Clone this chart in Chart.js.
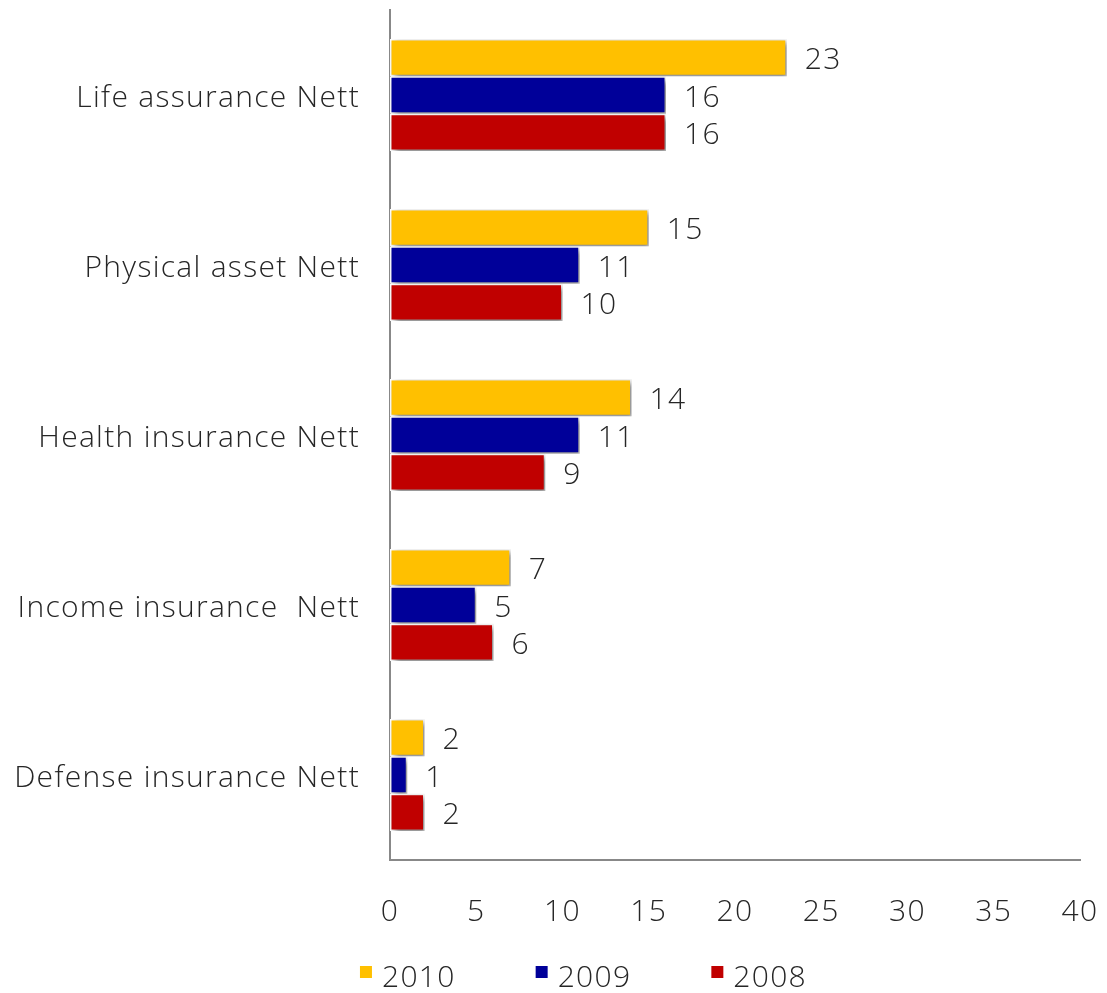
<!DOCTYPE html>
<html>
<head>
<meta charset="utf-8">
<script src="https://cdn.jsdelivr.net/npm/chart.js@4"></script>
<style>
  html, body { margin: 0; padding: 0; background: #fff; }
  #wrap { width: 1107px; height: 993px; }
</style>
</head>
<body>
<div id="wrap"><canvas id="premiumChart" width="1107" height="993"></canvas></div>
<script>
const categories = ['Life assurance Nett', 'Physical asset Nett', 'Health insurance Nett', 'Income insurance  Nett', 'Defense insurance Nett'];
const years = ['2010', '2009', '2008'];
const values2010 = [23, 15, 14, 7, 2];
const values2009 = [16, 11, 11, 5, 1];
const values2008 = [16, 10, 9, 6, 2];
const xTicks = [0, 5, 10, 15, 20, 25, 30, 35, 40];

const colors = ['#FFC000', '#000099', '#C00000'];
const fontFamily = "'Open Sans', Lato, 'DejaVu Sans', sans-serif";
const fontSize = 30;
const fontWeight = '300';
const tracking = '1.3px';
const textColor = '#262626';

// wide tracking for every piece of text on the canvas
const textTracking = {
    id: 'textTracking',
    beforeUpdate(chart) { chart.ctx.letterSpacing = tracking; },
    beforeDraw(chart) { chart.ctx.letterSpacing = tracking; }
};

// soft drop shadow under the bars only
const barShadow = {
    id: 'barShadow',
    beforeDatasetsDraw(chart) {
        const c = chart.ctx;
        c.save();
        c.shadowColor = 'rgba(0,0,0,0.5)';
        c.shadowBlur = 6;
        c.shadowOffsetX = 3;
        c.shadowOffsetY = 3;
    },
    afterDatasetsDraw(chart) {
        chart.ctx.restore();
    }
};

// value written just past the end of each bar
const valueLabels = {
    id: 'valueLabels',
    afterDatasetsDraw(chart) {
        const c = chart.ctx;
        c.save();
        c.font = fontWeight + ' ' + fontSize + 'px ' + fontFamily;
        c.fillStyle = textColor;
        c.textAlign = 'left';
        c.textBaseline = 'middle';
        chart.data.datasets.forEach((ds, i) => {
            chart.getDatasetMeta(i).data.forEach((bar, j) => {
                c.fillText(String(ds.data[j]), bar.x + 18, bar.y + 3);
            });
        });
        c.restore();
    }
};

// one row of square markers + year under the axis
const yearLegend = {
    id: 'yearLegend',
    afterDraw(chart) {
        const c = chart.ctx;
        c.save();
        c.font = fontWeight + ' ' + fontSize + 'px ' + fontFamily;
        c.textBaseline = 'middle';
        c.textAlign = 'left';
        const box = 12, gap = 10, spacing = 80;
        const widths = chart.data.datasets.map(ds => box + gap + c.measureText(ds.label).width);
        const total = widths.reduce((a, b) => a + b, 0) + spacing * (widths.length - 1);
        let x = (chart.width - total) / 2 + 30;
        const y = 978;
        chart.data.datasets.forEach((ds, i) => {
            c.fillStyle = ds.backgroundColor;
            c.fillRect(x, y - 12, box, box);
            c.fillStyle = textColor;
            c.fillText(ds.label, x + box + gap, y);
            x += widths[i] + spacing;
        });
        c.restore();
    }
};

const ctx = document.getElementById('premiumChart').getContext('2d');
new Chart(ctx, {
    type: 'bar',
    data: {
        labels: categories,
        datasets: [
            { label: years[0], data: values2010, backgroundColor: colors[0] },
            { label: years[1], data: values2009, backgroundColor: colors[1] },
            { label: years[2], data: values2008, backgroundColor: colors[2] }
        ].map(ds => Object.assign(ds, {
            borderColor: '#fff',
            borderWidth: 1.5,
            borderSkipped: false,
            categoryPercentage: 0.66,
            barPercentage: 1
        }))
    },
    options: {
        indexAxis: 'y',
        responsive: false,
        animation: false,
        layout: { padding: { top: 10, right: 27, bottom: 53, left: 0 } },
        scales: {
            x: {
                min: 0,
                max: 40,
                afterBuildTicks: axis => { axis.ticks = xTicks.map(v => ({ value: v })); },
                afterFit: axis => {
                    axis.height = 80;
                    axis.paddingLeft = 0;
                    axis.paddingRight = 0;
                },
                grid: { display: false, drawTicks: false },
                border: { display: true, color: '#888', width: 2 },
                ticks: {
                    padding: 34,
                    color: textColor,
                    font: { family: fontFamily, size: fontSize, weight: fontWeight }
                }
            },
            y: {
                afterFit: axis => {
                    axis.width = 390;
                    axis.paddingTop = 0;
                    axis.paddingBottom = 0;
                },
                grid: { display: false, drawTicks: false },
                border: { display: true, color: '#888', width: 2 },
                ticks: {
                    padding: 30,
                    labelOffset: 3,
                    color: textColor,
                    font: { family: fontFamily, size: fontSize, weight: fontWeight }
                }
            }
        },
        plugins: {
            legend: { display: false },
            tooltip: { enabled: false }
        }
    },
    plugins: [textTracking, barShadow, valueLabels, yearLegend]
});
</script>
</body>
</html>
